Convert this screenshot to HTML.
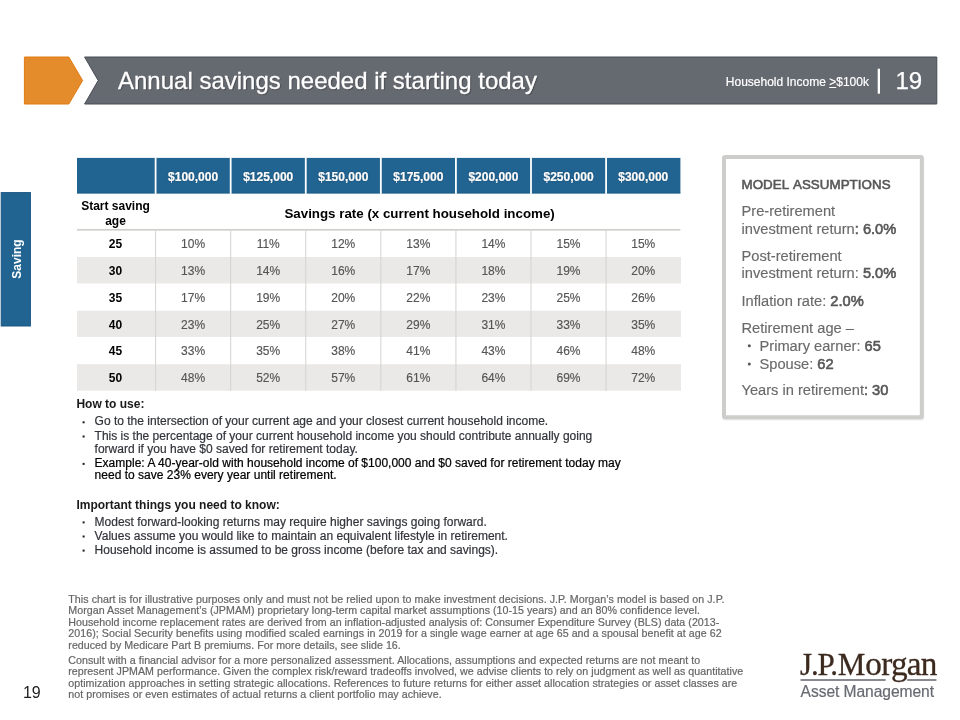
<!DOCTYPE html>
<html lang="en">
<head>
<meta charset="utf-8">
<title>Annual savings needed if starting today</title>
<style>
html,body{margin:0;padding:0;background:#fff;}
body{width:960px;height:720px;position:relative;overflow:hidden;font-family:'Liberation Sans', sans-serif;color:#333;}
.slide{position:absolute;left:0;top:0;width:960px;height:720px;overflow:hidden;background:#fff;}
.slide div,.slide p,.slide h1,.slide h2,.slide h3,.slide li,.slide ul{position:absolute;margin:0;padding:0;white-space:nowrap;list-style:none;font-weight:normal;}
.slide svg{position:absolute;left:0;top:0;}
header,nav,section,aside,footer{display:block;margin:0;padding:0;}
/* type scale */
.f24{font-size:24px;line-height:28px;}
.f16{font-size:16px;line-height:18px;}
.f15{font-size:14.67px;line-height:18px;}
.f13{font-size:13.33px;line-height:16px;}
.f12{font-size:12px;line-height:14px;}
.f11{font-size:10.67px;line-height:12px;}
.slide .b,.slide b{font-weight:bold;}
.w{color:#fff;}
.k{color:#000;}
.k2{color:#1a1a1a;}
.sb{font-weight:normal;color:#575757;-webkit-text-stroke:0.6px #575757;}
.g{color:#666;-webkit-text-stroke:0.2px #666;}
.m{color:#6a6a6a;-webkit-text-stroke:0.15px #6a6a6a;}
.t{color:#32343a;-webkit-text-stroke:0.2px #32343a;}
.x{color:#000;-webkit-text-stroke:0.22px #000;letter-spacing:0.012px;}
.n{color:#555;text-align:center;-webkit-text-stroke:0.15px #555;}
.a{color:#000;text-align:center;}
</style>
</head>
<body>
<div class="slide">

<svg width="960" height="720" viewBox="0 0 960 720" aria-hidden="true">
<polygon points="24.4,57 68.8,57 82.6,80.5 68.8,104 24.4,104" fill="#e48b2b" stroke="#e27b10" stroke-width="1"/>
<polygon points="84.6,57 936.8,57 936.8,104 84.6,104 98.2,80.5" fill="#656970" stroke="#484c55" stroke-width="1"/>
<rect x="877.7" y="68.7" width="2.3" height="25" fill="#fff"/>
<rect x="1.2" y="192.6" width="29.2" height="133.4" fill="#216492" stroke="#1b5784" stroke-width="1"/>
<rect x="77" y="157.9" width="603.4" height="35.5" fill="#216492"/>
<rect x="77" y="192.6" width="603.4" height="0.8" fill="#1c5a86"/>
<rect x="154.7" y="157.4" width="1.8" height="36.5" fill="#fff"/>
<rect x="229.78" y="157.4" width="1.8" height="36.5" fill="#fff"/>
<rect x="304.86" y="157.4" width="1.8" height="36.5" fill="#fff"/>
<rect x="379.94" y="157.4" width="1.8" height="36.5" fill="#fff"/>
<rect x="455.02" y="157.4" width="1.8" height="36.5" fill="#fff"/>
<rect x="530.1" y="157.4" width="1.8" height="36.5" fill="#fff"/>
<rect x="605.18" y="157.4" width="1.8" height="36.5" fill="#fff"/>
<rect x="77" y="257" width="604" height="26.5" fill="#eae9e8"/>
<rect x="77" y="310.7" width="604" height="26.2" fill="#eae9e8"/>
<rect x="77" y="364.2" width="604" height="26.5" fill="#eae9e8"/>
<rect x="155.1" y="230.6" width="1" height="160.1" fill="#d4d3d1"/>
<rect x="230.18" y="230.6" width="1" height="160.1" fill="#d4d3d1"/>
<rect x="305.26" y="230.6" width="1" height="160.1" fill="#d4d3d1"/>
<rect x="380.34" y="230.6" width="1" height="160.1" fill="#d4d3d1"/>
<rect x="455.42" y="230.6" width="1" height="160.1" fill="#d4d3d1"/>
<rect x="530.5" y="230.6" width="1" height="160.1" fill="#d4d3d1"/>
<rect x="605.58" y="230.6" width="1" height="160.1" fill="#d4d3d1"/>
<rect x="77" y="229" width="603.4" height="1.6" fill="#cfcecb"/>
<rect x="722.6" y="156.4" width="201.6" height="264" rx="2" fill="#000" opacity="0.07"/>
<rect x="724" y="157" width="197.8" height="260.3" rx="1" fill="#fff" stroke="#cdcdcb" stroke-width="4"/>
<rect x="82.6" y="421.3" width="2" height="2" fill="#1a1a1a"/>
<rect x="82.6" y="435.5" width="2" height="2" fill="#1a1a1a"/>
<rect x="82.6" y="462.9" width="2" height="2" fill="#1a1a1a"/>
<rect x="82.6" y="521.4" width="2" height="2" fill="#1a1a1a"/>
<rect x="82.6" y="535.5" width="2" height="2" fill="#1a1a1a"/>
<rect x="82.6" y="549.6" width="2" height="2" fill="#1a1a1a"/>
<circle cx="749.3" cy="345.7" r="1.5" fill="#555"/>
<circle cx="749.3" cy="363.9" r="1.5" fill="#555"/>
<rect x="800.5" y="679.2" width="85.1" height="1.6" fill="#6d6e75"/>
<rect x="907.2" y="679.2" width="29.2" height="1.6" fill="#6d6e75"/>
</svg>
<header>
<h1 class="f24 w" style="left:118px;top:67px;-webkit-text-stroke:0.3px #fff;text-shadow:1px 1px 1px rgba(0,0,0,.3);">Annual savings needed if starting today</h1>
<div class="f12 w" style="left:725.8px;top:75px;-webkit-text-stroke:0.2px #fff;">Household Income <u>&gt;</u>$100k</div>
<div class="f24 w" style="left:895.4px;top:67px;-webkit-text-stroke:0.25px #fff;">19</div>
</header>
<nav aria-label="Section">
<div class="f12 b w" style="left:-2.6px;top:252px;width:40px;text-align:center;transform:rotate(-90deg);">Saving</div>
</nav>
<section aria-label="Savings rate table">
<div class="f12 b w" style="left:155.6px;top:170px;width:75.08px;text-align:center;-webkit-text-stroke:0.2px #fff;text-shadow:0 0 1.5px rgba(0,0,0,.45);">$100,000</div>
<div class="f12 b w" style="left:230.68px;top:170px;width:75.08px;text-align:center;-webkit-text-stroke:0.2px #fff;text-shadow:0 0 1.5px rgba(0,0,0,.45);">$125,000</div>
<div class="f12 b w" style="left:305.76px;top:170px;width:75.08px;text-align:center;-webkit-text-stroke:0.2px #fff;text-shadow:0 0 1.5px rgba(0,0,0,.45);">$150,000</div>
<div class="f12 b w" style="left:380.84px;top:170px;width:75.08px;text-align:center;-webkit-text-stroke:0.2px #fff;text-shadow:0 0 1.5px rgba(0,0,0,.45);">$175,000</div>
<div class="f12 b w" style="left:455.92px;top:170px;width:75.08px;text-align:center;-webkit-text-stroke:0.2px #fff;text-shadow:0 0 1.5px rgba(0,0,0,.45);">$200,000</div>
<div class="f12 b w" style="left:531px;top:170px;width:75.08px;text-align:center;-webkit-text-stroke:0.2px #fff;text-shadow:0 0 1.5px rgba(0,0,0,.45);">$250,000</div>
<div class="f12 b w" style="left:606.08px;top:170px;width:74.32px;text-align:center;-webkit-text-stroke:0.2px #fff;text-shadow:0 0 1.5px rgba(0,0,0,.45);">$300,000</div>
<div class="f12 b k" style="left:76.2px;top:199px;width:78.6px;text-align:center;">Start saving</div>
<div class="f12 b k" style="left:76.2px;top:214px;width:78.6px;text-align:center;">age</div>
<div class="f13 b k" style="left:157.2px;top:206px;width:524.8px;text-align:center;">Savings rate (x current household income)</div>
<div class="f12 b a" style="left:76.2px;top:237px;width:78.6px;">25</div>
<div class="f12 n" style="left:155.6px;top:237px;width:75.08px;">10%</div>
<div class="f12 n" style="left:230.68px;top:237px;width:75.08px;">11%</div>
<div class="f12 n" style="left:305.76px;top:237px;width:75.08px;">12%</div>
<div class="f12 n" style="left:380.84px;top:237px;width:75.08px;">13%</div>
<div class="f12 n" style="left:455.92px;top:237px;width:75.08px;">14%</div>
<div class="f12 n" style="left:531px;top:237px;width:75.08px;">15%</div>
<div class="f12 n" style="left:606.08px;top:237px;width:74.32px;">15%</div>
<div class="f12 b a" style="left:76.2px;top:264px;width:78.6px;">30</div>
<div class="f12 n" style="left:155.6px;top:264px;width:75.08px;">13%</div>
<div class="f12 n" style="left:230.68px;top:264px;width:75.08px;">14%</div>
<div class="f12 n" style="left:305.76px;top:264px;width:75.08px;">16%</div>
<div class="f12 n" style="left:380.84px;top:264px;width:75.08px;">17%</div>
<div class="f12 n" style="left:455.92px;top:264px;width:75.08px;">18%</div>
<div class="f12 n" style="left:531px;top:264px;width:75.08px;">19%</div>
<div class="f12 n" style="left:606.08px;top:264px;width:74.32px;">20%</div>
<div class="f12 b a" style="left:76.2px;top:291px;width:78.6px;">35</div>
<div class="f12 n" style="left:155.6px;top:291px;width:75.08px;">17%</div>
<div class="f12 n" style="left:230.68px;top:291px;width:75.08px;">19%</div>
<div class="f12 n" style="left:305.76px;top:291px;width:75.08px;">20%</div>
<div class="f12 n" style="left:380.84px;top:291px;width:75.08px;">22%</div>
<div class="f12 n" style="left:455.92px;top:291px;width:75.08px;">23%</div>
<div class="f12 n" style="left:531px;top:291px;width:75.08px;">25%</div>
<div class="f12 n" style="left:606.08px;top:291px;width:74.32px;">26%</div>
<div class="f12 b a" style="left:76.2px;top:318px;width:78.6px;">40</div>
<div class="f12 n" style="left:155.6px;top:318px;width:75.08px;">23%</div>
<div class="f12 n" style="left:230.68px;top:318px;width:75.08px;">25%</div>
<div class="f12 n" style="left:305.76px;top:318px;width:75.08px;">27%</div>
<div class="f12 n" style="left:380.84px;top:318px;width:75.08px;">29%</div>
<div class="f12 n" style="left:455.92px;top:318px;width:75.08px;">31%</div>
<div class="f12 n" style="left:531px;top:318px;width:75.08px;">33%</div>
<div class="f12 n" style="left:606.08px;top:318px;width:74.32px;">35%</div>
<div class="f12 b a" style="left:76.2px;top:344px;width:78.6px;">45</div>
<div class="f12 n" style="left:155.6px;top:344px;width:75.08px;">33%</div>
<div class="f12 n" style="left:230.68px;top:344px;width:75.08px;">35%</div>
<div class="f12 n" style="left:305.76px;top:344px;width:75.08px;">38%</div>
<div class="f12 n" style="left:380.84px;top:344px;width:75.08px;">41%</div>
<div class="f12 n" style="left:455.92px;top:344px;width:75.08px;">43%</div>
<div class="f12 n" style="left:531px;top:344px;width:75.08px;">46%</div>
<div class="f12 n" style="left:606.08px;top:344px;width:74.32px;">48%</div>
<div class="f12 b a" style="left:76.2px;top:371px;width:78.6px;">50</div>
<div class="f12 n" style="left:155.6px;top:371px;width:75.08px;">48%</div>
<div class="f12 n" style="left:230.68px;top:371px;width:75.08px;">52%</div>
<div class="f12 n" style="left:305.76px;top:371px;width:75.08px;">57%</div>
<div class="f12 n" style="left:380.84px;top:371px;width:75.08px;">61%</div>
<div class="f12 n" style="left:455.92px;top:371px;width:75.08px;">64%</div>
<div class="f12 n" style="left:531px;top:371px;width:75.08px;">69%</div>
<div class="f12 n" style="left:606.08px;top:371px;width:74.32px;">72%</div>
</section>
<section aria-label="Notes">
<h2 class="f12 b k2" style="left:76.4px;top:397px;">How to use:</h2>
<div class="f12 t" style="left:94.6px;top:414px;">Go to the intersection of your current age and your closest current household income.</div>
<div class="f12 t" style="left:94.6px;top:429px;">This is the percentage of your current household income you should contribute annually going</div>
<div class="f12 t" style="left:94.6px;top:442px;">forward if you have $0 saved for retirement today.</div>
<div class="f12 x" style="left:94.6px;top:456px;">Example: A 40-year-old with household income of $100,000 and $0 saved for retirement today may</div>
<div class="f12 x" style="left:94.6px;top:468px;">need to save 23% every year until retirement.</div>
<h2 class="f12 b k2" style="left:76.4px;top:498px;">Important things you need to know:</h2>
<div class="f12 t" style="left:94.6px;top:515px;">Modest forward-looking returns may require higher savings going forward.</div>
<div class="f12 t" style="left:94.6px;top:529px;">Values assume you would like to maintain an equivalent lifestyle in retirement.</div>
<div class="f12 t" style="left:94.6px;top:543px;">Household income is assumed to be gross income (before tax and savings).</div>
</section>
<aside>
<h3 class="f13 sb" style="left:741.5px;top:177px;letter-spacing:0.06px;word-spacing:1.2px;">MODEL ASSUMPTIONS</h3>
<div class="f15 m" style="left:741.5px;top:202px;">Pre-retirement</div>
<div class="f15 m" style="left:741.5px;top:220px;">investment return<span class="sb">: 6.0%</span></div>
<div class="f15 m" style="left:741.5px;top:247px;">Post-retirement</div>
<div class="f15 m" style="left:741.5px;top:264px;">investment return: <span class="sb">5.0%</span></div>
<div class="f15 m" style="left:741.5px;top:292px;">Inflation rate: <span class="sb">2.0%</span></div>
<div class="f15 m" style="left:741.5px;top:319px;">Retirement age &ndash;</div>
<div class="f15 m" style="left:759.5px;top:337px;">Primary earner: <span class="sb">65</span></div>
<div class="f15 m" style="left:759.5px;top:355px;">Spouse: <span class="sb">62</span></div>
<div class="f15 m" style="left:741.5px;top:381px;">Years in retirement<span class="sb">: 30</span></div>
</aside>
<footer>
<div class="f11 g" style="left:68.3px;top:593px;letter-spacing:0.05px;">This chart is for illustrative purposes only and must not be relied upon to make investment decisions. J.P. Morgan&rsquo;s model is based on J.P.</div>
<div class="f11 g" style="left:68.3px;top:604px;letter-spacing:0.032px;">Morgan Asset Management&rsquo;s (JPMAM) proprietary long-term capital market assumptions (10-15 years) and an 80% confidence level.</div>
<div class="f11 g" style="left:68.3px;top:616px;letter-spacing:0.027px;">Household income replacement rates are derived from an inflation-adjusted analysis of: Consumer Expenditure Survey (BLS) data (2013-</div>
<div class="f11 g" style="left:68.3px;top:627px;letter-spacing:0.043px;">2016); Social Security benefits using modified scaled earnings in 2019 for a single wage earner at age 65 and a spousal benefit at age 62</div>
<div class="f11 g" style="left:68.3px;top:639px;letter-spacing:0.03px;">reduced by Medicare Part B premiums. For more details, see slide 16.</div>
<div class="f11 g" style="left:68.3px;top:654px;letter-spacing:0.036px;">Consult with a financial advisor for a more personalized assessment. Allocations, assumptions and expected returns are not meant to</div>
<div class="f11 g" style="left:68.3px;top:665px;letter-spacing:0.029px;">represent JPMAM performance. Given the complex risk/reward tradeoffs involved, we advise clients to rely on judgment as well as quantitative</div>
<div class="f11 g" style="left:68.3px;top:677px;letter-spacing:0.03px;">optimization approaches in setting strategic allocations. References to future returns for either asset allocation strategies or asset classes are</div>
<div class="f11 g" style="left:68.3px;top:688px;letter-spacing:0.032px;">not promises or even estimates of actual returns a client portfolio may achieve.</div>
<div class="f16" style="left:22.9px;top:684px;color:#222;">19</div>
<div style="left:800px;top:647px;font-family:'Liberation Serif', serif;font-size:31px;line-height:34px;color:#3c2a1f;-webkit-text-stroke:0.3px #3c2a1f;"><span style="letter-spacing:-1.15px">J.P.</span><span style="margin-left:1px">M</span><span style="font-size:33.2px;letter-spacing:-0.75px">organ</span></div>
<div style="left:800.6px;top:683px;font-size:15.6px;line-height:18px;color:#686a72;letter-spacing:-0.06px;-webkit-text-stroke:0.2px #686a72;">Asset Management</div>
</footer>
</div>
</body>
</html>
